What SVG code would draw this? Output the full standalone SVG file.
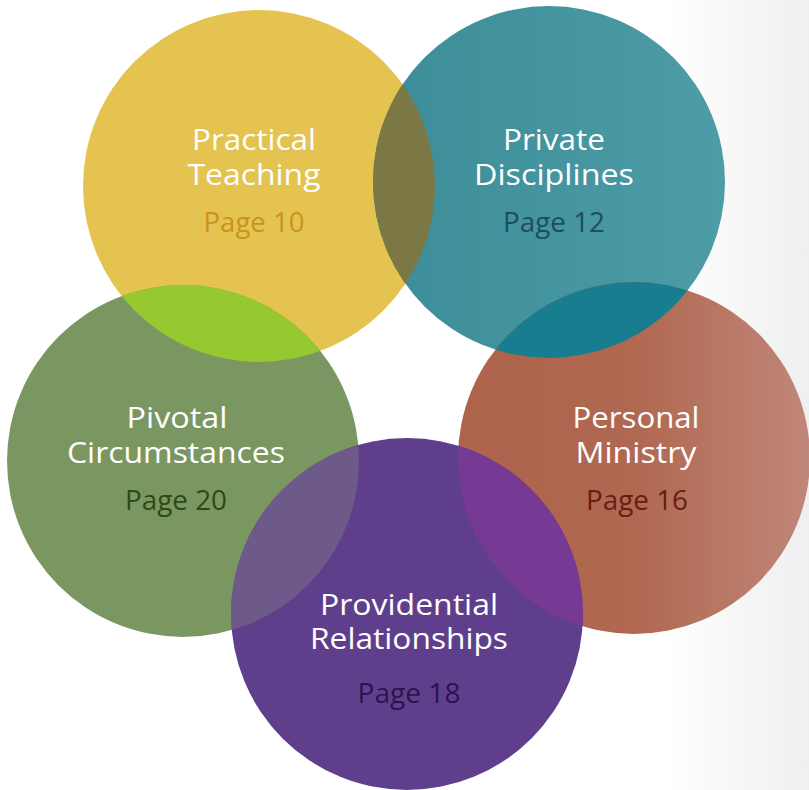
<svg xmlns="http://www.w3.org/2000/svg" width="809" height="790" viewBox="0 0 809 790">
<defs>
<style>
.t{font-family:"Open Sans","Noto Sans","Liberation Sans",sans-serif;font-size:30px;fill:#ffffff;text-anchor:middle}
.p{font-family:"Open Sans","Noto Sans","Liberation Sans",sans-serif;font-size:27px;text-anchor:middle}
</style>
<linearGradient id="bg" x1="0" y1="0" x2="1" y2="0">
<stop offset="0.82" stop-color="#ffffff"/>
<stop offset="1" stop-color="#efefef"/>
</linearGradient>
<linearGradient id="gTeal" x1="0" y1="0" x2="1" y2="0">
<stop offset="0" stop-color="#3c8d99"/>
<stop offset="1" stop-color="#4d9ca6"/>
</linearGradient>
<linearGradient id="gBrown" x1="0" y1="0" x2="1" y2="0">
<stop offset="0" stop-color="#ae634b"/>
<stop offset="0.5" stop-color="#b06850"/>
<stop offset="1" stop-color="#c0877a"/>
</linearGradient>
<clipPath id="cY"><circle cx="259" cy="186" r="176"/></clipPath>
<clipPath id="cT"><circle cx="549" cy="182" r="176"/></clipPath>
<clipPath id="cG"><circle cx="183" cy="461" r="176"/></clipPath>
<clipPath id="cB"><circle cx="634" cy="458" r="176"/></clipPath>
</defs>
<rect width="809" height="790" fill="url(#bg)"/>
<g id="practical-teaching">
<circle cx="259" cy="186" r="176" fill="#e5c350"/>
<text class="t" x="254" y="150" textLength="124" lengthAdjust="spacingAndGlyphs">Practical</text>
<text class="t" x="254" y="185" textLength="133" lengthAdjust="spacingAndGlyphs">Teaching</text>
<text class="p" x="254" y="232" fill="#c9931c" textLength="101" lengthAdjust="spacingAndGlyphs">Page 10</text>
</g>
<g id="private-disciplines">
<circle cx="549" cy="182" r="176" fill="url(#gTeal)"/>
<text class="t" x="554" y="150" textLength="102" lengthAdjust="spacingAndGlyphs">Private</text>
<text class="t" x="554" y="185" textLength="160" lengthAdjust="spacingAndGlyphs">Disciplines</text>
<text class="p" x="554" y="232" fill="#1c4e5c" textLength="102" lengthAdjust="spacingAndGlyphs">Page 12</text>
</g>
<g id="pivotal-circumstances">
<circle cx="183" cy="461" r="176" fill="#7b9761"/>
<text class="t" x="177" y="428" textLength="101" lengthAdjust="spacingAndGlyphs">Pivotal</text>
<text class="t" x="176" y="463" textLength="218" lengthAdjust="spacingAndGlyphs">Circumstances</text>
<text class="p" x="176" y="510" fill="#2d4a16" textLength="102" lengthAdjust="spacingAndGlyphs">Page 20</text>
</g>
<g id="personal-ministry">
<circle cx="634" cy="458" r="176" fill="url(#gBrown)"/>
<text class="t" x="636" y="428" textLength="127" lengthAdjust="spacingAndGlyphs">Personal</text>
<text class="t" x="636" y="463" textLength="121" lengthAdjust="spacingAndGlyphs">Ministry</text>
<text class="p" x="637" y="510" fill="#6a1c12" textLength="102" lengthAdjust="spacingAndGlyphs">Page 16</text>
</g>
<g id="providential-relationships">
<circle cx="407" cy="614" r="176" fill="#5f3f8b"/>
<text class="t" x="409" y="615" textLength="178" lengthAdjust="spacingAndGlyphs">Providential</text>
<text class="t" x="409" y="649" textLength="198" lengthAdjust="spacingAndGlyphs">Relationships</text>
<text class="p" x="409" y="703" fill="#2a1450" textLength="103" lengthAdjust="spacingAndGlyphs">Page 18</text>
</g>
<g id="overlaps">
<circle cx="549" cy="182" r="176" fill="#7c7845" clip-path="url(#cY)"/>
<circle cx="183" cy="461" r="176" fill="#95c92f" clip-path="url(#cY)"/>
<circle cx="634" cy="458" r="176" fill="#187d8e" clip-path="url(#cT)"/>
<circle cx="407" cy="614" r="176" fill="#6e5a8a" clip-path="url(#cG)"/>
<circle cx="407" cy="614" r="176" fill="#763a94" clip-path="url(#cB)"/>
</g>
</svg>
